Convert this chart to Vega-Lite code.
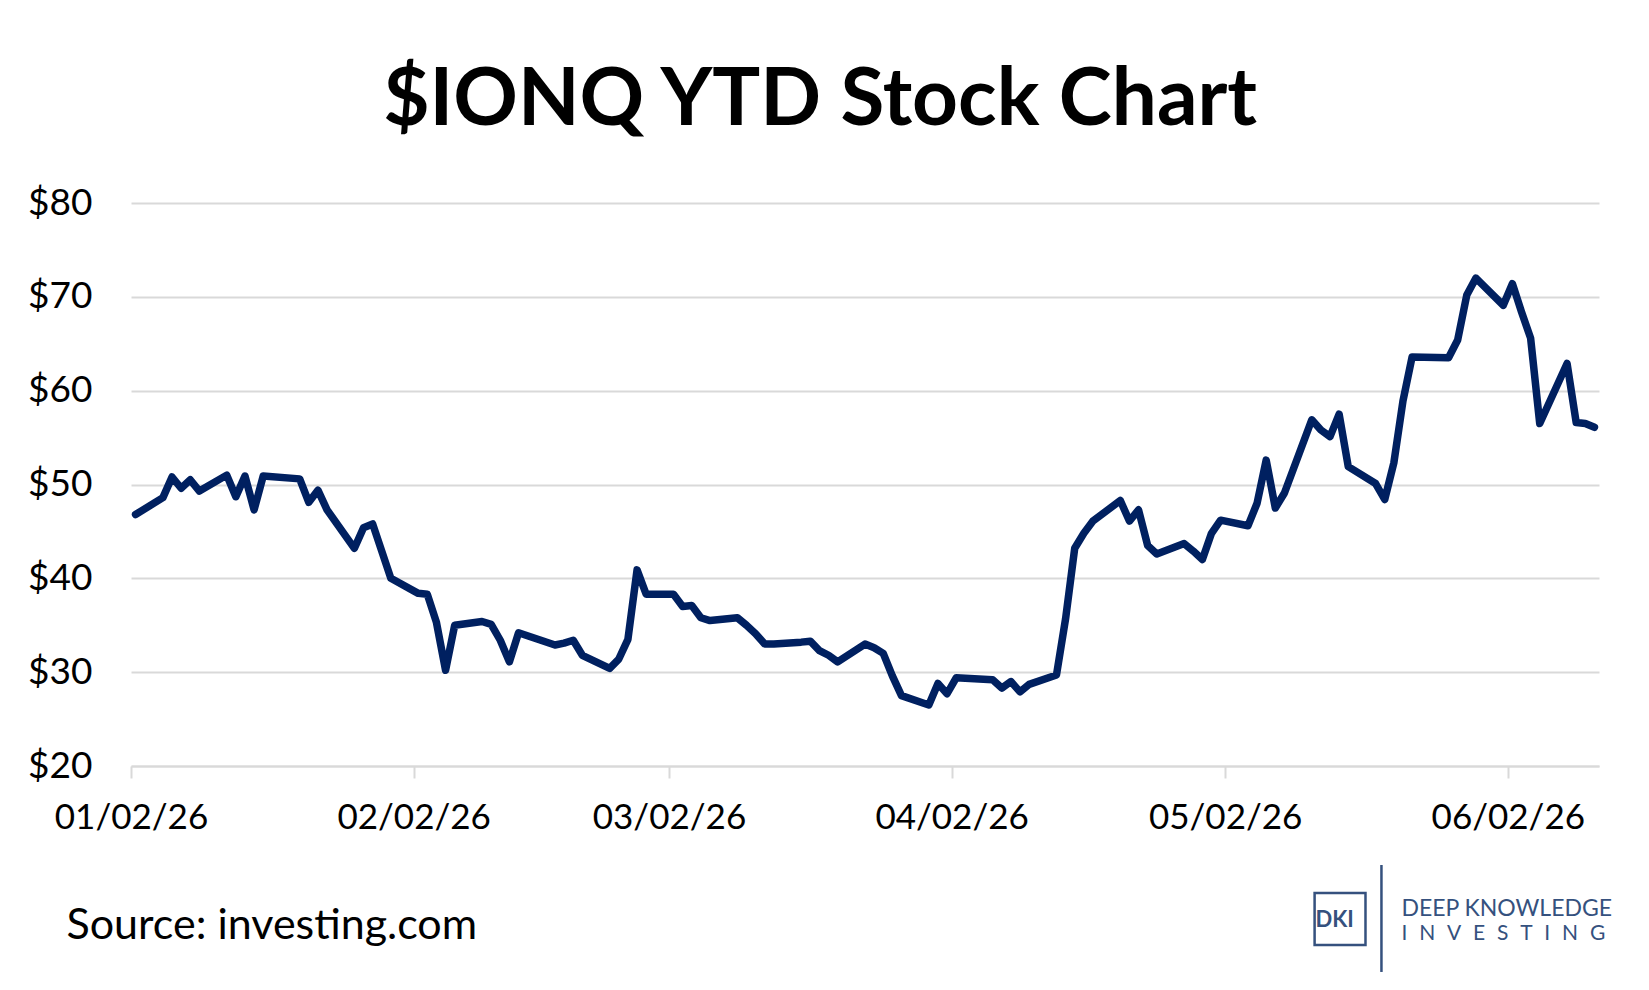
{
  "$schema": "https://vega.github.io/schema/vega-lite/v6.json",
  "width": 1468,
  "height": 563,
  "autosize": {"type": "none"},
  "padding": {"left": 131, "top": 203, "right": 50, "bottom": 224},
  "background": "white",
  "config": {"view": {"stroke": null}},
  "title": {
    "text": "$IONQ YTD Stock Chart",
    "font": "Lato",
    "fontWeight": "bold",
    "fontSize": 80,
    "color": "black",
    "anchor": "middle",
    "frame": "bounds",
    "baseline": "alphabetic",
    "offset": 63,
    "dy": 84
  },
  "layer": [
    {
      "data": {
        "values": [
          {"date": "2026-01-02T12:00:00", "price": 46.8},
          {"date": "2026-01-05T12:00:00", "price": 48.6},
          {"date": "2026-01-06T12:00:00", "price": 50.8},
          {"date": "2026-01-07T12:00:00", "price": 49.6},
          {"date": "2026-01-08T12:00:00", "price": 50.5},
          {"date": "2026-01-09T12:00:00", "price": 49.3},
          {"date": "2026-01-12T12:00:00", "price": 51.0},
          {"date": "2026-01-13T12:00:00", "price": 48.7},
          {"date": "2026-01-14T12:00:00", "price": 50.9},
          {"date": "2026-01-15T12:00:00", "price": 47.3},
          {"date": "2026-01-16T12:00:00", "price": 50.9},
          {"date": "2026-01-20T12:00:00", "price": 50.6},
          {"date": "2026-01-21T12:00:00", "price": 48.1},
          {"date": "2026-01-22T12:00:00", "price": 49.4},
          {"date": "2026-01-23T12:00:00", "price": 47.3},
          {"date": "2026-01-26T12:00:00", "price": 43.2},
          {"date": "2026-01-27T12:00:00", "price": 45.4},
          {"date": "2026-01-28T12:00:00", "price": 45.8},
          {"date": "2026-01-29T12:00:00", "price": 42.9},
          {"date": "2026-01-30T12:00:00", "price": 40.0},
          {"date": "2026-02-02T12:00:00", "price": 38.4},
          {"date": "2026-02-03T12:00:00", "price": 38.3},
          {"date": "2026-02-04T12:00:00", "price": 35.3},
          {"date": "2026-02-05T12:00:00", "price": 30.2},
          {"date": "2026-02-06T12:00:00", "price": 35.0},
          {"date": "2026-02-09T12:00:00", "price": 35.4},
          {"date": "2026-02-10T12:00:00", "price": 35.1},
          {"date": "2026-02-11T12:00:00", "price": 33.4},
          {"date": "2026-02-12T12:00:00", "price": 31.1},
          {"date": "2026-02-13T12:00:00", "price": 34.2},
          {"date": "2026-02-17T12:00:00", "price": 32.9},
          {"date": "2026-02-18T12:00:00", "price": 33.1},
          {"date": "2026-02-19T12:00:00", "price": 33.4},
          {"date": "2026-02-20T12:00:00", "price": 31.8},
          {"date": "2026-02-23T12:00:00", "price": 30.4},
          {"date": "2026-02-24T12:00:00", "price": 31.4},
          {"date": "2026-02-25T12:00:00", "price": 33.5},
          {"date": "2026-02-26T12:00:00", "price": 40.9},
          {"date": "2026-02-27T12:00:00", "price": 38.3},
          {"date": "2026-03-02T12:00:00", "price": 38.3},
          {"date": "2026-03-03T12:00:00", "price": 37.0},
          {"date": "2026-03-04T12:00:00", "price": 37.1},
          {"date": "2026-03-05T12:00:00", "price": 35.8},
          {"date": "2026-03-06T12:00:00", "price": 35.5},
          {"date": "2026-03-09T12:00:00", "price": 35.8},
          {"date": "2026-03-10T12:00:00", "price": 35.0},
          {"date": "2026-03-11T12:00:00", "price": 34.1},
          {"date": "2026-03-12T12:00:00", "price": 33.0},
          {"date": "2026-03-13T12:00:00", "price": 33.0},
          {"date": "2026-03-16T12:00:00", "price": 33.2},
          {"date": "2026-03-17T12:00:00", "price": 33.3},
          {"date": "2026-03-18T12:00:00", "price": 32.3},
          {"date": "2026-03-19T12:00:00", "price": 31.8},
          {"date": "2026-03-20T12:00:00", "price": 31.1},
          {"date": "2026-03-23T12:00:00", "price": 33.0},
          {"date": "2026-03-24T12:00:00", "price": 32.6},
          {"date": "2026-03-25T12:00:00", "price": 32.0},
          {"date": "2026-03-26T12:00:00", "price": 29.6},
          {"date": "2026-03-27T12:00:00", "price": 27.5},
          {"date": "2026-03-30T12:00:00", "price": 26.5},
          {"date": "2026-03-31T12:00:00", "price": 28.8},
          {"date": "2026-04-01T12:00:00", "price": 27.7},
          {"date": "2026-04-02T12:00:00", "price": 29.4},
          {"date": "2026-04-06T12:00:00", "price": 29.2},
          {"date": "2026-04-07T12:00:00", "price": 28.3},
          {"date": "2026-04-08T12:00:00", "price": 29.0},
          {"date": "2026-04-09T12:00:00", "price": 27.9},
          {"date": "2026-04-10T12:00:00", "price": 28.7},
          {"date": "2026-04-13T12:00:00", "price": 29.7},
          {"date": "2026-04-14T12:00:00", "price": 35.7},
          {"date": "2026-04-15T12:00:00", "price": 43.2},
          {"date": "2026-04-16T12:00:00", "price": 44.8},
          {"date": "2026-04-17T12:00:00", "price": 46.1},
          {"date": "2026-04-20T12:00:00", "price": 48.3},
          {"date": "2026-04-21T12:00:00", "price": 46.1},
          {"date": "2026-04-22T12:00:00", "price": 47.3},
          {"date": "2026-04-23T12:00:00", "price": 43.5},
          {"date": "2026-04-24T12:00:00", "price": 42.6},
          {"date": "2026-04-27T12:00:00", "price": 43.7},
          {"date": "2026-04-28T12:00:00", "price": 42.9},
          {"date": "2026-04-29T12:00:00", "price": 42.0},
          {"date": "2026-04-30T12:00:00", "price": 44.8},
          {"date": "2026-05-01T12:00:00", "price": 46.2},
          {"date": "2026-05-04T12:00:00", "price": 45.6},
          {"date": "2026-05-05T12:00:00", "price": 48.0},
          {"date": "2026-05-06T12:00:00", "price": 52.6},
          {"date": "2026-05-07T12:00:00", "price": 47.5},
          {"date": "2026-05-08T12:00:00", "price": 49.1},
          {"date": "2026-05-11T12:00:00", "price": 56.9},
          {"date": "2026-05-12T12:00:00", "price": 55.8},
          {"date": "2026-05-13T12:00:00", "price": 55.1},
          {"date": "2026-05-14T12:00:00", "price": 57.5},
          {"date": "2026-05-15T12:00:00", "price": 51.9},
          {"date": "2026-05-18T12:00:00", "price": 50.1},
          {"date": "2026-05-19T12:00:00", "price": 48.4},
          {"date": "2026-05-20T12:00:00", "price": 52.3},
          {"date": "2026-05-21T12:00:00", "price": 58.9},
          {"date": "2026-05-22T12:00:00", "price": 63.6},
          {"date": "2026-05-26T12:00:00", "price": 63.5},
          {"date": "2026-05-27T12:00:00", "price": 65.4},
          {"date": "2026-05-28T12:00:00", "price": 70.2},
          {"date": "2026-05-29T12:00:00", "price": 72.0},
          {"date": "2026-06-01T12:00:00", "price": 69.1},
          {"date": "2026-06-02T12:00:00", "price": 71.4},
          {"date": "2026-06-03T12:00:00", "price": 68.4},
          {"date": "2026-06-04T12:00:00", "price": 65.6},
          {"date": "2026-06-05T12:00:00", "price": 56.5},
          {"date": "2026-06-08T12:00:00", "price": 62.9},
          {"date": "2026-06-09T12:00:00", "price": 56.6},
          {"date": "2026-06-10T12:00:00", "price": 56.5},
          {"date": "2026-06-11T12:00:00", "price": 56.1}
        ]
      },
      "mark": {"type": "line", "color": "#002060", "strokeWidth": 7.5, "strokeJoin": "round", "strokeCap": "round"},
      "encoding": {
        "x": {
          "field": "date",
          "type": "temporal",
          "scale": {"domain": [{"year": 2026, "month": 1, "date": 2}, {"year": 2026, "month": 6, "date": 12}]},
          "axis": {
            "values": [
              {"year": 2026, "month": 1, "date": 2},
              {"year": 2026, "month": 2, "date": 2},
              {"year": 2026, "month": 3, "date": 2},
              {"year": 2026, "month": 4, "date": 2},
              {"year": 2026, "month": 5, "date": 2},
              {"year": 2026, "month": 6, "date": 2}
            ],
            "format": "%m/%d/%y",
            "labelFont": "Lato",
            "labelFontSize": 35,
            "labelColor": "black",
            "labelPadding": 22,
            "labelDx": 3,
            "labelFlush": false,
            "labelOverlap": false,
            "domainColor": "#d9d9d9",
            "domainWidth": 2,
            "tickColor": "#d9d9d9",
            "tickWidth": 2,
            "tickSize": 12,
            "grid": false,
            "title": "Source: investing.com",
            "titleFont": "Lato",
            "titleFontSize": 43,
            "titleFontWeight": "normal",
            "titleColor": "black",
            "titleAnchor": "start",
            "titleAlign": "left",
            "titleBaseline": "alphabetic",
            "titleX": -65,
            "titleY": 172
          }
        },
        "y": {
          "field": "price",
          "type": "quantitative",
          "scale": {"domain": [20, 80], "zero": false, "nice": false},
          "axis": {
            "values": [20, 30, 40, 50, 60, 70, 80],
            "format": "$.0f",
            "labelFont": "Lato",
            "labelFontSize": 37,
            "labelColor": "black",
            "labelPadding": 39,
            "domain": false,
            "ticks": false,
            "grid": true,
            "gridColor": "#d9d9d9",
            "gridWidth": 2,
            "title": null
          }
        }
      }
    },
    {
      "data": {"values": [{}]},
      "mark": {"type": "rect", "fill": null, "filled": false, "stroke": "#35517e", "strokeWidth": 2.5},
      "encoding": {
        "x": {"datum": {"year": 2026, "month": 5, "date": 11, "hours": 19, "minutes": 25}, "type": "temporal"},
        "x2": {"datum": {"year": 2026, "month": 5, "date": 17, "hours": 9, "minutes": 22}},
        "y": {"datum": 6.47, "type": "quantitative"},
        "y2": {"datum": 0.92}
      }
    },
    {
      "data": {"values": [{}]},
      "mark": {"type": "rule", "color": "#35517e", "strokeWidth": 2.5},
      "encoding": {
        "x": {"datum": {"year": 2026, "month": 5, "date": 19, "hours": 3, "minutes": 22}, "type": "temporal"},
        "y": {"datum": 9.45, "type": "quantitative"},
        "y2": {"datum": -1.95}
      }
    },
    {
      "data": {"values": [{}]},
      "mark": {"type": "text", "text": "DKI", "font": "Lato", "fontWeight": "bold", "fontSize": 22, "color": "#35517e", "align": "left", "baseline": "alphabetic"},
      "encoding": {
        "x": {"datum": {"year": 2026, "month": 5, "date": 11, "hours": 21, "minutes": 36}, "type": "temporal"},
        "y": {"datum": 2.84, "type": "quantitative"}
      }
    },
    {
      "data": {"values": [{}]},
      "mark": {"type": "text", "text": "DEEP KNOWLEDGE", "font": "Lato", "fontSize": 23, "color": "#35517e", "align": "left", "baseline": "alphabetic"},
      "encoding": {
        "x": {"datum": {"year": 2026, "month": 5, "date": 21, "hours": 8}, "type": "temporal"},
        "y": {"datum": 4.05, "type": "quantitative"}
      }
    },
    {
      "data": {"values": [{}]},
      "mark": {"type": "text", "text": "I\u2002\u200aN\u2002\u200aV\u2002\u200aE\u2002\u200aS\u2002\u200aT\u2002\u200aI\u2002\u200aN\u2002\u200aG", "font": "Lato", "fontSize": 21, "color": "#35517e", "align": "left", "baseline": "alphabetic"},
      "encoding": {
        "x": {"datum": {"year": 2026, "month": 5, "date": 21, "hours": 8}, "type": "temporal"},
        "y": {"datum": 1.5, "type": "quantitative"}
      }
    }
  ]
}
